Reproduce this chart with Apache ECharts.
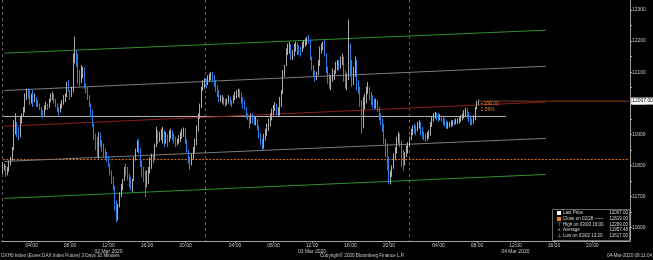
<!DOCTYPE html>
<html><head><meta charset="utf-8">
<script src="https://cdn.jsdelivr.net/npm/echarts@6/dist/echarts.min.js"></script>
<style>html,body{margin:0;padding:0;background:#000}#c{width:653px;height:260px}</style>
</head><body><div id="c"></div>
<script>
// ---- axis / category definitions ----
const dayKeys = ['03-02', '03-03', '03-04', '03-05'];
const dayNames = ['02 Mar 2020', '03 Mar 2020', '04 Mar 2020', '05 Mar 2020'];
const barsPerDay = [127, 127, 127, 11];           // 10-minute bars from 01:00
const tickTimes = ['04:00', '08:00', '12:00', '16:00', '20:00'];
const yLabelValues = [11600, 11700, 11800, 11900, 12000, 12100, 12200, 12300];
const yTickValues = [11600, 11650, 11700, 11750, 11800, 11850, 11900, 11950, 12000, 12050, 12100, 12150, 12200, 12250, 12300];

// ---- price bars (10 min), day 1: 02 Mar ----
const d1Close = [
11790,11795,11770,11780,11800,11815,11850,11900,11940,11905,
11890,11935,11960,11970,12010,12040,12030,12000,12025,12005,
12020,12000,11995,11985,11965,11960,11980,11990,11985,12005,
12025,12030,12015,12000,11980,11970,11985,11995,12015,12020,
12050,12040,12020,12035,12150,12170,12140,12075,12065,12110,
12115,12060,12050,12025,12000,11965,11935,11890,11870,11840,
11905,11880,11870,11845,11835,11830,11805,11780,11755,11735,
11680,11630,11665,11700,11730,11750,11790,11780,11765,11745,
11735,11750,11820,11845,11870,11855,11810,11775,11760,11740,
11775,11790,11820,11835,11820,11860,11910,11885,11890,11910,
11910,11880,11900,11875,11895,11910,11895,11885,11870,11875,
11890,11905,11915,11920,11885,11850,11815,11800,11820,11840,
11865,11910,11950,11985,12040,12060,12065];
const d1High = [
11811,11806,11800,11795,11816,11827,11859,11945,11967,11934,
11924,11956,11967,11988,12031,12047,12047,12042,12031,12042,
12031,12020,12010,11999,11988,11978,11994,12004,11999,12015,
12031,12037,12026,12015,11999,11988,11999,12010,12026,12031,
12069,12074,12042,12053,12160,12214,12171,12160,12106,12123,
12117,12096,12063,12053,12026,11999,11978,11934,11902,11892,
11908,11902,11881,11870,11854,11843,11827,11806,11784,11763,
11714,11687,11676,11714,11741,11757,11795,11806,11795,11773,
11763,11757,11827,11854,11881,11886,11854,11816,11795,11784,
11784,11795,11827,11838,11838,11870,11924,11913,11908,11918,
11924,11913,11908,11897,11913,11918,11913,11902,11892,11886,
11897,11908,11918,11922,11913,11881,11849,11827,11838,11859,
11886,11929,11967,11999,12053,12074,12080];
const d1Low = [
11773,11784,11763,11768,11789,11806,11822,11849,11913,11892,
11881,11924,11945,11956,11988,12020,12015,11994,11999,11988,
12004,11988,11988,11978,11956,11951,11967,11978,11978,11988,
12004,12010,11999,11988,11972,11961,11972,11983,11999,12004,
12031,12037,12010,12020,12042,12128,12117,12063,12053,12069,
12080,12047,12031,12010,11988,11956,11924,11881,11849,11827,
11822,11859,11843,11827,11822,11811,11795,11768,11741,11720,
11655,11617,11623,11671,11698,11720,11752,11768,11752,11730,
11720,11714,11757,11816,11843,11838,11795,11763,11746,11698,
11730,11741,11773,11789,11806,11816,11859,11870,11875,11881,
11870,11859,11870,11859,11875,11886,11881,11870,11859,11865,
11870,11875,11886,11892,11870,11838,11806,11786,11800,11827,
11849,11875,11913,11956,11988,12042,12047];

// ---- day 2: 03 Mar ----
const d2Close = [
12060,12080,12090,12095,12085,12065,12045,12030,12010,12015,
12020,12005,11995,12005,12020,12010,12000,12015,12030,12040,
12045,12035,12015,11995,11985,11960,11950,11935,11955,11945,
11940,11950,11925,11905,11880,11860,11880,11895,11910,11925,
11945,11960,11975,11985,11965,11970,12005,12030,12100,12120,
12160,12180,12190,12150,12165,12185,12195,12180,12175,12165,
12195,12200,12205,12210,12205,12150,12115,12090,12080,12090,
12120,12165,12180,12185,12160,12110,12075,12060,12070,12090,
12095,12125,12135,12130,12145,12150,12100,12065,12075,12160,
12130,12070,12090,12120,12060,12040,12000,11920,11980,12000,
12030,12050,12025,12010,11995,11985,11990,11980,11955,11935,
11915,11880,11840,11790,11755,11770,11790,11825,11845,11880,
11900,11880,11820,11815,11840,11860,11870];
const d2High = [
12080,12090,12096,12101,12101,12090,12074,12058,12042,12026,
12026,12020,12015,12015,12026,12020,12010,12026,12037,12042,
12047,12042,12031,12020,12010,11988,11967,11961,11967,11967,
11956,11956,11945,11929,11902,11886,11902,11918,11934,11951,
11967,11983,11994,12004,11999,11988,12020,12042,12106,12123,
12176,12192,12198,12176,12171,12192,12198,12192,12187,12182,
12198,12203,12209,12214,12219,12203,12150,12123,12106,12101,
12139,12182,12192,12198,12203,12150,12117,12096,12090,12112,
12106,12133,12139,12139,12150,12160,12133,12106,12096,12269,
12192,12139,12117,12150,12139,12074,12053,12010,12020,12031,
12053,12069,12053,12037,12026,12015,12015,12010,11988,11967,
11951,11934,11886,11870,11827,11784,11800,11838,11859,11892,
11908,11902,11875,11849,11843,11865,11875];
const d2Low = [
12047,12058,12069,12074,12069,12053,12037,12020,12004,12004,
11999,11994,11988,11994,11999,11994,11988,11999,12010,12015,
12020,12015,11999,11983,11978,11951,11945,11918,11934,11934,
11929,11929,11913,11886,11865,11849,11854,11886,11897,11913,
11934,11951,11967,11978,11961,11956,11961,11988,12031,12085,
12128,12155,12160,12139,12139,12150,12166,12155,12155,12150,
12171,12176,12182,12187,12192,12139,12106,12085,12069,12074,
12096,12139,12160,12171,12150,12096,12063,12047,12042,12069,
12074,12096,12106,12106,12112,12123,12069,12047,12042,12085,
12085,12053,12058,12085,12042,12031,11988,11902,11945,11988,
12010,12031,12010,11994,11983,11978,11983,11972,11945,11929,
11908,11870,11827,11784,11741,11739,11763,11789,11816,11838,
11870,11859,11795,11784,11800,11827,11838];

// ---- day 3: 04 Mar (until 08:10) ----
const d3Close = [
11885,11915,11925,11920,11910,11935,11940,11920,11905,11890,
11880,11890,11895,11925,11945,11960,11965,11955,11950,11955,
11950,11940,11930,11925,11925,11930,11935,11940,11935,11940,
11945,11945,11955,11960,11960,11975,11965,11950,11940,11935,
11950,11980,12000,12007];
const d3High = [
11892,11918,11929,11934,11929,11940,11945,11934,11924,11908,
11902,11908,11913,11940,11956,11967,11972,11969,11967,11965,
11961,11956,11951,11945,11940,11940,11945,11945,11947,11951,
11951,11956,11961,11967,11978,11986,11983,11972,11961,11951,
11961,11988,12008,12012];
const d3Low = [
11859,11881,11897,11902,11897,11913,11918,11897,11886,11881,
11875,11881,11886,11908,11924,11940,11951,11945,11940,11945,
11940,11929,11924,11918,11918,11922,11924,11926,11929,11932,
11934,11934,11940,11945,11951,11958,11951,11940,11929,11929,
11934,11945,11983,11994];

// ---- regression channel (start value, end value) ----
const channelStartCat = '03-02 01:10';
const channelEndCat = '03-04 15:10';
const chanUpper2 = [12161, 12235];
const chanUpper1 = [12041, 12119];
const chanMid = [11926, 12004];
const chanLower1 = [11813, 11887];
const chanLower2 = [11694, 11771];

// ---- reference values ----
const lastPrice = 12007.00;
const prevClose = 11819.00;
const highVal = 12269.00;
const averageVal = 11957.48;
const lowVal = 11617.00;
const averageEndCat = '03-04 11:00';
const changeText = '+188.00';
const changePctText = '1.59%';
const legendRows = [
  ['', 'Last Price', lastPrice],
  ['', 'Close on 02/28 ------', prevClose],
  ['\u22a4', 'High on 03/03 16:00', highVal],
  ['+', 'Average', averageVal],
  ['\u22a5', 'Low on 03/02 13:20', lowVal]
];

// ---- build categories ----
const cats = [];
dayKeys.forEach((k, d) => {
  for (let j = 0; j < barsPerDay[d]; j++) {
    const m = 60 + 10 * j;
    const hh = String(Math.floor(m / 60)).padStart(2, '0');
    const mm = String(m % 60).padStart(2, '0');
    cats.push(k + ' ' + hh + ':' + mm);
  }
});
const closeAll = d1Close.concat(d2Close, d3Close);
const highAll = d1High.concat(d2High, d3High);
const lowAll = d1Low.concat(d2Low, d3Low);
const ohlc = closeAll.map((c, i) => {
  const o = i === 0 ? c : closeAll[i - 1];
  return [o, c, Math.min(lowAll[i], o, c), Math.max(highAll[i], o, c)];
});
const lastCat = cats[closeAll.length - 1];
const endCat = cats[cats.length - 1];

const isTickCat = v => tickTimes.includes(v.slice(6)) && !v.startsWith('03-05');
const isDayStart = v => v.slice(6) === '01:00' && !v.startsWith('03-05');

const FONT = 'Liberation Sans, Arial, sans-serif';
function lineSeries(a, b, va, vb, color, extra) {
  return Object.assign({
    type: 'line', data: [[a, va], [b, vb]], symbol: 'none', silent: true, z: 1,
    lineStyle: { color: color, width: 1 }, animation: false
  }, extra || {});
}

const graphics = [
  { type: 'rect', z: 100, shape: { x: 552.5, y: 209.5, width: 77, height: 31 }, style: { fill: '#000', stroke: '#6a6a6a', lineWidth: 1 } },
  { type: 'rect', z: 101, shape: { x: 557, y: 211, width: 4, height: 4 }, style: { fill: '#ffffff' } },
  { type: 'rect', z: 101, shape: { x: 557, y: 217, width: 4, height: 4 }, style: { fill: '#e8821e' } }
];
legendRows.forEach((r, k) => {
  const y = 213 + k * 5.7;
  if (r[0]) graphics.push({ type: 'text', z: 101, x: 559, y: y, style: { text: r[0], fill: '#d8d8d8', fontSize: 4.5, fontFamily: FONT, align: 'center', verticalAlign: 'middle' } });
  graphics.push({ type: 'text', z: 101, x: 563, y: y, style: { text: r[1], fill: '#d8d8d8', fontSize: 4.5, fontFamily: FONT, verticalAlign: 'middle' } });
  graphics.push({ type: 'text', z: 101, x: 628, y: y, style: { text: r[2].toFixed(2), fill: '#d8d8d8', fontSize: 4.5, fontFamily: FONT, align: 'right', verticalAlign: 'middle' } });
});
graphics.push(
  { type: 'text', z: 101, x: 1, y: 256, style: { text: 'GXH0 Index (Eurex DAX Index Future) 3 Days 10 Minutes', fill: '#c8c8c8', fontSize: 4.6, fontFamily: FONT, verticalAlign: 'middle' } },
  { type: 'text', z: 101, x: 320, y: 256, style: { text: 'Copyright\u00a9 2020 Bloomberg Finance L.P.', fill: '#c8c8c8', fontSize: 4.6, fontFamily: FONT, verticalAlign: 'middle' } },
  { type: 'text', z: 101, x: 652, y: 256, style: { text: '04-Mar-2020 08:11:04', fill: '#c8c8c8', fontSize: 4.6, fontFamily: FONT, align: 'right', verticalAlign: 'middle' } }
);

const chart = echarts.init(document.getElementById('c'), null, { renderer: 'canvas' });
chart.setOption({
  backgroundColor: '#000',
  animation: false,
  grid: { left: 2, right: 23, top: 0, bottom: 19 },
  xAxis: {
    type: 'category', data: cats, boundaryGap: true,
    axisLine: { show: true, lineStyle: { color: '#a0a0a0', width: 1 } },
    axisTick: { show: true, length: 2, alignWithLabel: true, interval: (i, v) => isTickCat(v), lineStyle: { color: '#a0a0a0' } },
    axisLabel: {
      interval: (i, v) => isTickCat(v), color: '#c8c8c8', fontSize: 5, margin: 2, lineHeight: 5.5, fontFamily: FONT,
      formatter: v => {
        const t = v.slice(6);
        const d = dayKeys.indexOf(v.slice(0, 5));
        return t === '12:00' ? t + '\n' + dayNames[d] : t;
      }
    },
    splitLine: { show: true, interval: (i, v) => isDayStart(v), lineStyle: { color: '#5a5a5a', type: [3, 3], width: 1 } }
  },
  yAxis: {
    type: 'value', position: 'right', min: 11557, max: 12332, scale: true,
    splitLine: { show: false },
    axisLine: { show: true, lineStyle: { color: '#a0a0a0', width: 1 } },
    axisTick: { show: true, length: 2, customValues: yTickValues, lineStyle: { color: '#a0a0a0' } },
    axisLabel: { customValues: yLabelValues, formatter: v => String(v), color: '#c8c8c8', fontSize: 5, margin: 2, fontFamily: FONT }
  },
  series: [
    lineSeries(cats[0], endCat, prevClose, prevClose, '#e0701c', { lineStyle: { color: '#e0701c', width: 1, type: [2, 1.5] } }),
    lineSeries(cats[0], averageEndCat, averageVal, averageVal, '#b4b4b4'),
    lineSeries(channelStartCat, channelEndCat, chanUpper2[0], chanUpper2[1], '#2f8f2f'),
    lineSeries(channelStartCat, channelEndCat, chanUpper1[0], chanUpper1[1], '#7c7c7c'),
    lineSeries(channelStartCat, channelEndCat, chanMid[0], chanMid[1], '#8e1c1c'),
    lineSeries(channelStartCat, channelEndCat, chanLower1[0], chanLower1[1], '#7c7c7c'),
    lineSeries(channelStartCat, channelEndCat, chanLower2[0], chanLower2[1], '#2f8f2f'),
    lineSeries(lastCat, endCat, lastPrice, lastPrice, '#7a3c1c', {
      z: 3,
      endLabel: { show: true, formatter: lastPrice.toFixed(2), backgroundColor: '#ffffff', color: '#000', fontSize: 5, padding: [1, 1, 1, 1], distance: 2, fontFamily: FONT }
    }),
    {
      type: 'candlestick', data: ohlc, barWidth: 1, z: 2,
      itemStyle: { color: '#ababab', color0: '#2a7de1', borderColor: '#ababab', borderColor0: '#2a7de1', borderWidth: 1 },
      markPoint: {
        symbol: 'circle', symbolSize: 0, silent: true,
        data: [{ coord: [lastCat, lastPrice] }],
        label: {
          show: true, position: 'right', distance: 2, offset: [0, 6],
          formatter: '{a|' + changeText + '}\n{a|' + changePctText + '}',
          rich: { a: { color: '#e07b39', fontSize: 5, lineHeight: 6, fontFamily: FONT } }
        }
      }
    }
  ],
  graphic: graphics
});
</script>
</body></html>
